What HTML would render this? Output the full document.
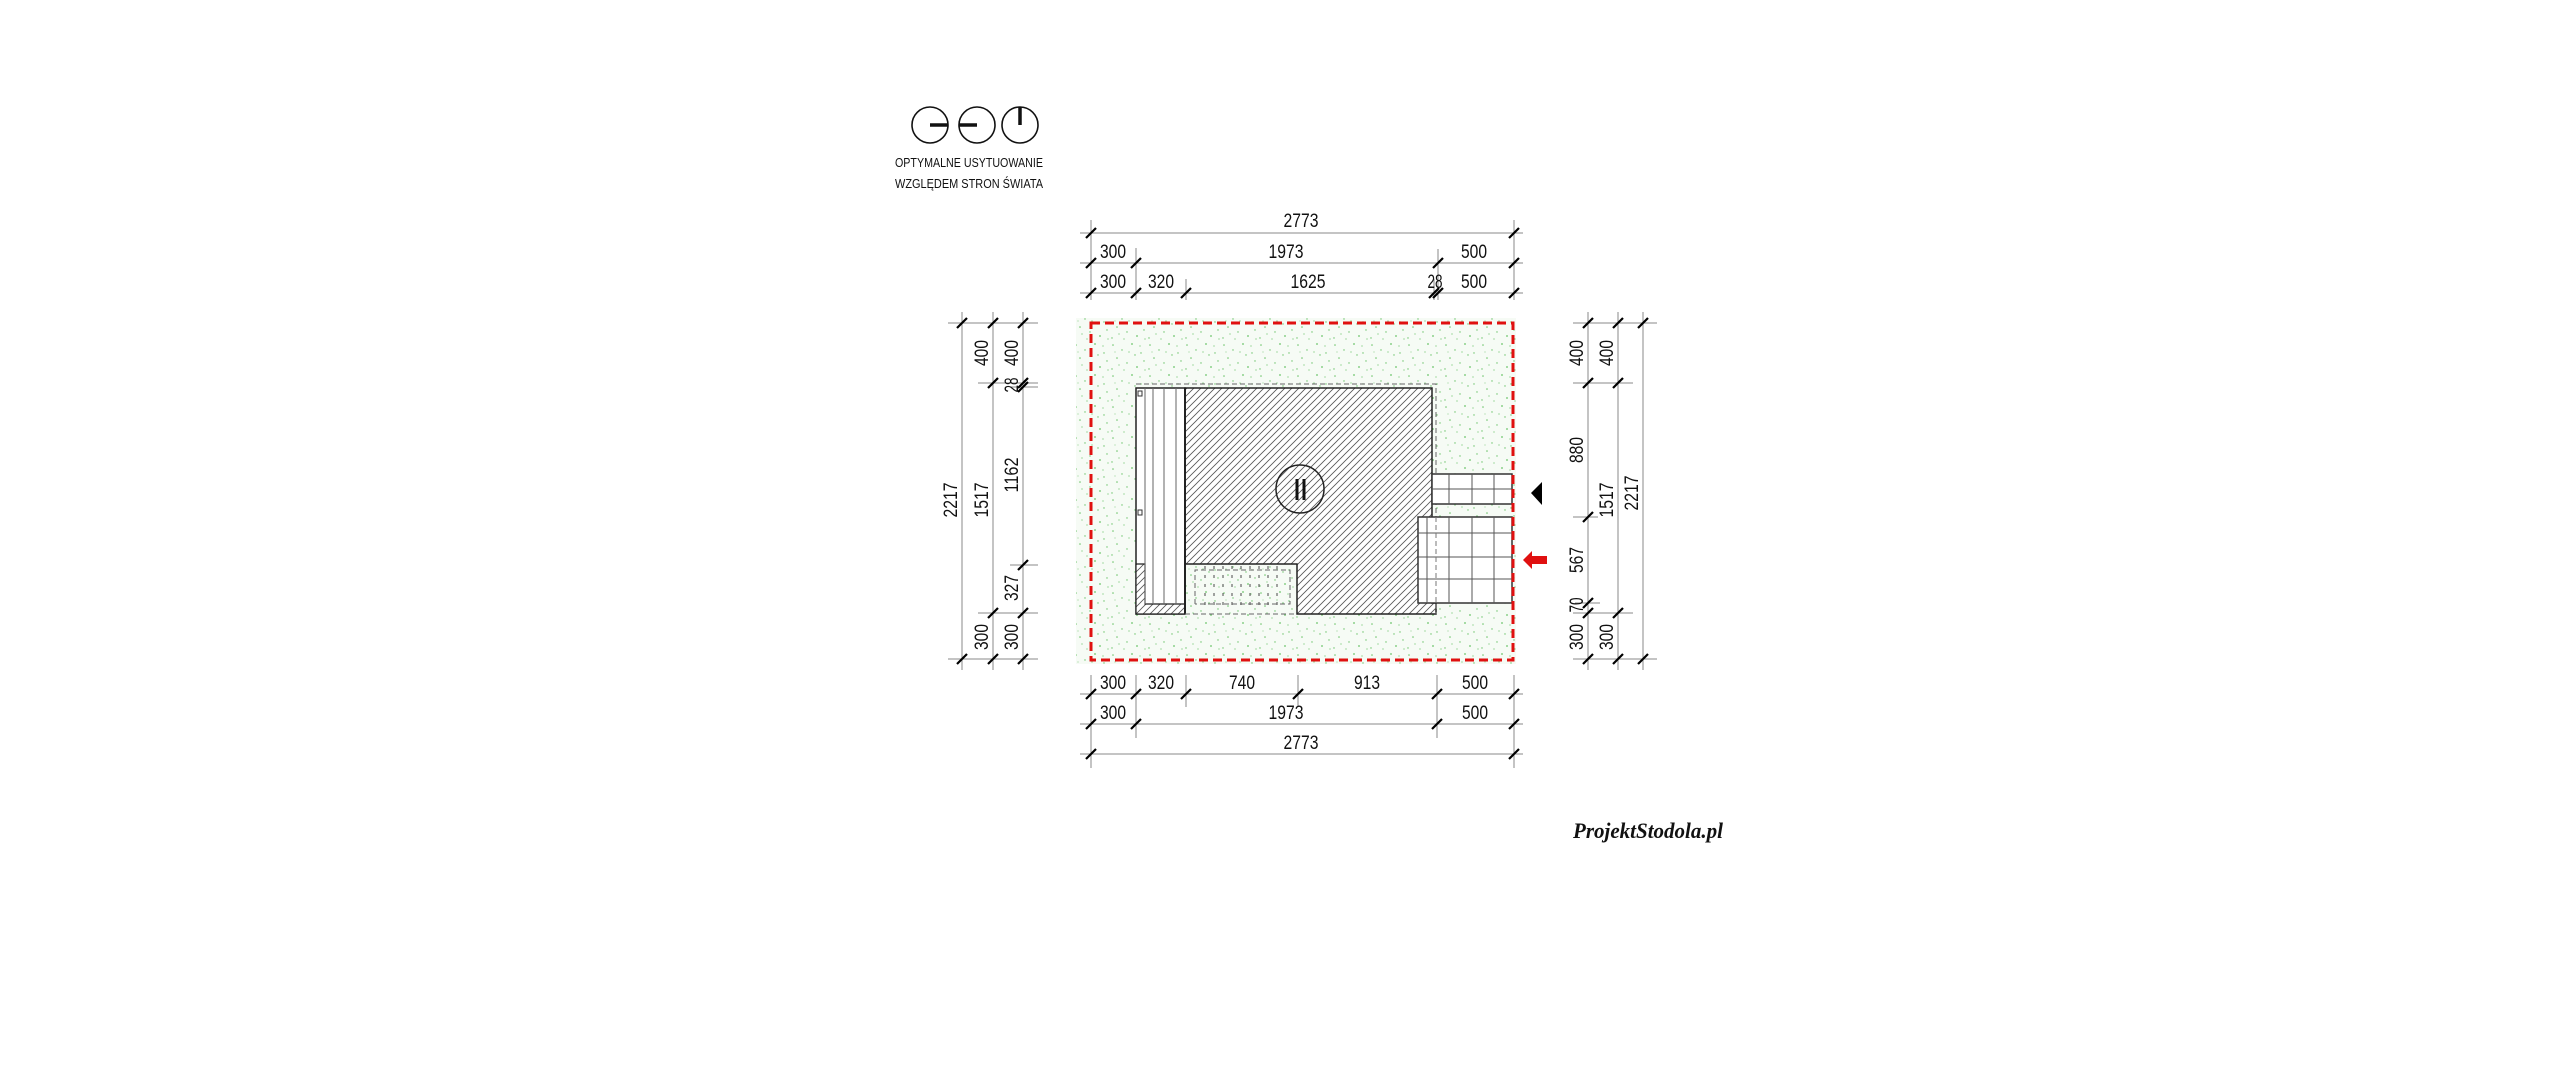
<!DOCTYPE html>
<html><head><meta charset="utf-8"><style>
html,body{margin:0;padding:0;background:#fff;width:2560px;height:1073px;overflow:hidden}
svg{display:block}
.d{font-family:"Liberation Sans",sans-serif;font-size:19px;fill:#111;text-anchor:middle}
.c{font-family:"Liberation Sans",sans-serif;font-size:13px;fill:#111}
</style></head><body>
<svg width="2560" height="1073" viewBox="0 0 2560 1073" xmlns="http://www.w3.org/2000/svg">
<defs>
<pattern id="g" width="37" height="31" patternUnits="userSpaceOnUse">
<rect width="37" height="31" fill="#f6fbf5"/>
<g fill="#6cc46a">
<circle cx="3" cy="4" r="0.8"/><circle cx="12" cy="9" r="0.7"/><circle cx="22" cy="3" r="0.9"/><circle cx="31" cy="12" r="0.7"/>
<circle cx="7" cy="17" r="0.8"/><circle cx="17" cy="22" r="0.7"/><circle cx="27" cy="26" r="0.9"/><circle cx="34" cy="20" r="0.7"/>
<circle cx="2" cy="28" r="0.7"/><circle cx="14" cy="29" r="0.6"/><circle cx="25" cy="14" r="0.7"/><circle cx="9" cy="24" r="0.6"/>
<circle cx="19" cy="11" r="0.6"/><circle cx="30" cy="5" r="0.6"/><circle cx="5" cy="11" r="0.5"/><circle cx="35" cy="29" r="0.6"/>
</g></pattern>
<pattern id="h" width="7" height="7" patternUnits="userSpaceOnUse">
<rect width="7" height="7" fill="#fff"/>
<path d="M-1,8 L8,-1 M-2,2 L2,-2 M5,9 L9,5" stroke="#555" stroke-width="0.8"/>
</pattern>
</defs>

<!-- compass -->
<g fill="none" stroke="#111" stroke-width="1.6">
<circle cx="930" cy="125" r="18"/><circle cx="977" cy="125" r="18"/><circle cx="1020" cy="125" r="18"/>
</g>
<g stroke="#111" stroke-width="3.5">
<line x1="930" y1="125" x2="948" y2="125"/><line x1="959" y1="125" x2="977" y2="125"/><line x1="1020" y1="107" x2="1020" y2="125"/>
</g>
<text class="c" x="895" y="167" textLength="148" lengthAdjust="spacingAndGlyphs">OPTYMALNE USYTUOWANIE</text>
<text class="c" x="895" y="188" textLength="148" lengthAdjust="spacingAndGlyphs">WZGLĘDEM STRON ŚWIATA</text>

<!-- plot -->
<rect x="1076" y="318" width="440" height="346" fill="url(#g)"/>

<!-- building -->
<path d="M1185,388 H1432 V603 H1436 V614 H1297 V564 H1185 Z" fill="url(#h)" stroke="#222" stroke-width="1.5"/>
<rect x="1136" y="388" width="49" height="226" fill="#fff" stroke="#222" stroke-width="1.5"/>
<path d="M1136,564 H1145 V604 H1185 V614 H1136 Z" fill="url(#h)" stroke="#222" stroke-width="1.2"/>
<g stroke="#666" stroke-width="1"><line x1="1145" y1="388" x2="1145" y2="604"/><line x1="1153" y1="388" x2="1153" y2="604"/><line x1="1164" y1="388" x2="1164" y2="604"/><line x1="1176" y1="388" x2="1176" y2="604"/></g>
<rect x="1138" y="391" width="4" height="5" fill="#fff" stroke="#333"/>
<rect x="1138" y="510" width="4" height="5" fill="#fff" stroke="#333"/>
<line x1="1185" y1="388" x2="1185" y2="614" stroke="#222" stroke-width="2"/>
<g stroke="#666" stroke-width="1" stroke-dasharray="5,3" fill="none">
<path d="M1136,384 H1436 V614"/><line x1="1185" y1="614" x2="1297" y2="614"/>
<path d="M1195,604 V570 H1290 V604 H1195"/>
</g>
<g stroke="#666" stroke-width="1.2" stroke-dasharray="3,6">
<line x1="1205" y1="566" x2="1205" y2="605"/><line x1="1214" y1="566" x2="1214" y2="605"/><line x1="1223" y1="566" x2="1223" y2="605"/><line x1="1232" y1="566" x2="1232" y2="605"/><line x1="1241" y1="566" x2="1241" y2="605"/><line x1="1250" y1="566" x2="1250" y2="605"/><line x1="1259" y1="566" x2="1259" y2="605"/><line x1="1268" y1="566" x2="1268" y2="605"/><line x1="1277" y1="566" x2="1277" y2="605"/>
</g>
<circle cx="1300" cy="489" r="24" fill="none" stroke="#222" stroke-width="1.5"/>
<g stroke="#111" stroke-width="3"><line x1="1297" y1="479" x2="1297" y2="500"/><line x1="1304" y1="479" x2="1304" y2="500"/></g>

<!-- tiles -->
<rect x="1432" y="474" width="80" height="30" fill="#fff" stroke="#333" stroke-width="1.5"/>
<g stroke="#555" stroke-width="1"><line x1="1449" y1="474" x2="1449" y2="504"/><line x1="1472" y1="474" x2="1472" y2="504"/><line x1="1494" y1="474" x2="1494" y2="504"/><line x1="1432" y1="489" x2="1512" y2="489"/></g>
<rect x="1418" y="517" width="94" height="86" fill="#fff" stroke="#333" stroke-width="1.5"/>
<g stroke="#555" stroke-width="1"><line x1="1427" y1="517" x2="1427" y2="603"/><line x1="1449" y1="517" x2="1449" y2="603"/><line x1="1472" y1="517" x2="1472" y2="603"/><line x1="1494" y1="517" x2="1494" y2="603"/><line x1="1418" y1="533" x2="1512" y2="533"/><line x1="1418" y1="557" x2="1512" y2="557"/><line x1="1418" y1="579" x2="1512" y2="579"/></g>
<line x1="1436" y1="517" x2="1436" y2="603" stroke="#777" stroke-dasharray="5,3"/>

<!-- red boundary -->
<rect x="1091" y="323" width="422" height="337" fill="none" stroke="#e01010" stroke-width="3" stroke-dasharray="9,5"/>
<polygon points="1531,493 1542,482 1542,505" fill="#000"/>
<polygon points="1523,560 1532,551 1532,556 1547,556 1547,564 1532,564 1532,569" fill="#e01010"/>

<!-- dimension lines -->
<g stroke="#888" stroke-width="1" fill="none">
<line x1="1080" y1="233" x2="1523" y2="233"/><line x1="1080" y1="263" x2="1523" y2="263"/><line x1="1080" y1="293" x2="1523" y2="293"/>
<line x1="1091" y1="220" x2="1091" y2="300"/><line x1="1514" y1="220" x2="1514" y2="300"/><line x1="1136" y1="248" x2="1136" y2="300"/><line x1="1438" y1="249" x2="1438" y2="300"/><line x1="1434" y1="279" x2="1434" y2="300"/><line x1="1186" y1="279" x2="1186" y2="300"/>
<line x1="1080" y1="694" x2="1523" y2="694"/><line x1="1080" y1="724" x2="1523" y2="724"/><line x1="1080" y1="754" x2="1523" y2="754"/>
<line x1="1091" y1="675" x2="1091" y2="768"/><line x1="1514" y1="675" x2="1514" y2="768"/><line x1="1136" y1="675" x2="1136" y2="738"/><line x1="1437" y1="675" x2="1437" y2="738"/><line x1="1186" y1="675" x2="1186" y2="707"/><line x1="1298" y1="675" x2="1298" y2="707"/>
<line x1="962" y1="312" x2="962" y2="670"/><line x1="993" y1="312" x2="993" y2="670"/><line x1="1023" y1="312" x2="1023" y2="670"/>
<line x1="948" y1="323" x2="1038" y2="323"/><line x1="948" y1="659" x2="1038" y2="659"/><line x1="978" y1="383" x2="1038" y2="383"/><line x1="1010" y1="387" x2="1038" y2="387"/><line x1="1010" y1="565" x2="1038" y2="565"/><line x1="978" y1="613" x2="1038" y2="613"/>
<line x1="1588" y1="312" x2="1588" y2="670"/><line x1="1618" y1="312" x2="1618" y2="670"/><line x1="1643" y1="312" x2="1643" y2="670"/>
<line x1="1573" y1="323" x2="1657" y2="323"/><line x1="1573" y1="659" x2="1657" y2="659"/><line x1="1573" y1="383" x2="1633" y2="383"/><line x1="1573" y1="517" x2="1598" y2="517"/><line x1="1575" y1="603" x2="1600" y2="603"/><line x1="1573" y1="613" x2="1633" y2="613"/>
</g>
<g stroke="#000" stroke-width="2.2">
<!-- top ticks -->
<path d="M1086,238 l10,-10 M1509,238 l10,-10
M1086,268 l10,-10 M1131,268 l10,-10 M1433,268 l10,-10 M1509,268 l10,-10
M1086,298 l10,-10 M1131,298 l10,-10 M1181,298 l10,-10 M1429,298 l10,-10 M1433,298 l10,-10 M1509,298 l10,-10
M1086,699 l10,-10 M1131,699 l10,-10 M1181,699 l10,-10 M1293,699 l10,-10 M1432,699 l10,-10 M1509,699 l10,-10
M1086,729 l10,-10 M1131,729 l10,-10 M1432,729 l10,-10 M1509,729 l10,-10
M1086,759 l10,-10 M1509,759 l10,-10
M957,328 l10,-10 M957,664 l10,-10
M988,328 l10,-10 M988,388 l10,-10 M988,618 l10,-10 M988,664 l10,-10
M1018,328 l10,-10 M1018,388 l10,-10 M1018,392 l10,-10 M1018,570 l10,-10 M1018,618 l10,-10 M1018,664 l10,-10
M1583,328 l10,-10 M1583,388 l10,-10 M1583,522 l10,-10 M1583,608 l10,-10 M1583,618 l10,-10 M1583,664 l10,-10
M1613,328 l10,-10 M1613,388 l10,-10 M1613,618 l10,-10 M1613,664 l10,-10
M1638,328 l10,-10 M1638,664 l10,-10"/>
</g>
<g class="d">
<text x="1301" y="227" textLength="35" lengthAdjust="spacingAndGlyphs">2773</text>
<text x="1113" y="258" textLength="26" lengthAdjust="spacingAndGlyphs">300</text>
<text x="1286" y="258" textLength="35" lengthAdjust="spacingAndGlyphs">1973</text>
<text x="1474" y="258" textLength="26" lengthAdjust="spacingAndGlyphs">500</text>
<text x="1113" y="288" textLength="26" lengthAdjust="spacingAndGlyphs">300</text>
<text x="1161" y="288" textLength="26" lengthAdjust="spacingAndGlyphs">320</text>
<text x="1308" y="288" textLength="35" lengthAdjust="spacingAndGlyphs">1625</text>
<text x="1435" y="288" textLength="15" lengthAdjust="spacingAndGlyphs">28</text>
<text x="1474" y="288" textLength="26" lengthAdjust="spacingAndGlyphs">500</text>
<text x="1113" y="689" textLength="26" lengthAdjust="spacingAndGlyphs">300</text>
<text x="1161" y="689" textLength="26" lengthAdjust="spacingAndGlyphs">320</text>
<text x="1242" y="689" textLength="26" lengthAdjust="spacingAndGlyphs">740</text>
<text x="1367" y="689" textLength="26" lengthAdjust="spacingAndGlyphs">913</text>
<text x="1475" y="689" textLength="26" lengthAdjust="spacingAndGlyphs">500</text>
<text x="1113" y="719" textLength="26" lengthAdjust="spacingAndGlyphs">300</text>
<text x="1286" y="719" textLength="35" lengthAdjust="spacingAndGlyphs">1973</text>
<text x="1475" y="719" textLength="26" lengthAdjust="spacingAndGlyphs">500</text>
<text x="1301" y="749" textLength="35" lengthAdjust="spacingAndGlyphs">2773</text>

<text transform="translate(957,500) rotate(-90)" textLength="35" lengthAdjust="spacingAndGlyphs">2217</text>
<text transform="translate(988,353) rotate(-90)" textLength="26" lengthAdjust="spacingAndGlyphs">400</text>
<text transform="translate(988,500) rotate(-90)" textLength="35" lengthAdjust="spacingAndGlyphs">1517</text>
<text transform="translate(988,637) rotate(-90)" textLength="26" lengthAdjust="spacingAndGlyphs">300</text>
<text transform="translate(1018,353) rotate(-90)" textLength="26" lengthAdjust="spacingAndGlyphs">400</text>
<text transform="translate(1018,385) rotate(-90)" textLength="15" lengthAdjust="spacingAndGlyphs">28</text>
<text transform="translate(1018,475) rotate(-90)" textLength="35" lengthAdjust="spacingAndGlyphs">1162</text>
<text transform="translate(1018,588) rotate(-90)" textLength="26" lengthAdjust="spacingAndGlyphs">327</text>
<text transform="translate(1018,637) rotate(-90)" textLength="26" lengthAdjust="spacingAndGlyphs">300</text>

<text transform="translate(1583,353) rotate(-90)" textLength="26" lengthAdjust="spacingAndGlyphs">400</text>
<text transform="translate(1583,450) rotate(-90)" textLength="26" lengthAdjust="spacingAndGlyphs">880</text>
<text transform="translate(1583,560) rotate(-90)" textLength="26" lengthAdjust="spacingAndGlyphs">567</text>
<text transform="translate(1583,605) rotate(-90)" textLength="15" lengthAdjust="spacingAndGlyphs">70</text>
<text transform="translate(1583,637) rotate(-90)" textLength="26" lengthAdjust="spacingAndGlyphs">300</text>
<text transform="translate(1613,353) rotate(-90)" textLength="26" lengthAdjust="spacingAndGlyphs">400</text>
<text transform="translate(1613,500) rotate(-90)" textLength="35" lengthAdjust="spacingAndGlyphs">1517</text>
<text transform="translate(1613,637) rotate(-90)" textLength="26" lengthAdjust="spacingAndGlyphs">300</text>
<text transform="translate(1638,493) rotate(-90)" textLength="35" lengthAdjust="spacingAndGlyphs">2217</text>
</g>

<text x="1573" y="838" font-family="Liberation Serif, serif" font-style="italic" font-weight="bold" font-size="22" fill="#111" textLength="150" lengthAdjust="spacingAndGlyphs">ProjektStodola.pl</text>
</svg>
</body></html>
